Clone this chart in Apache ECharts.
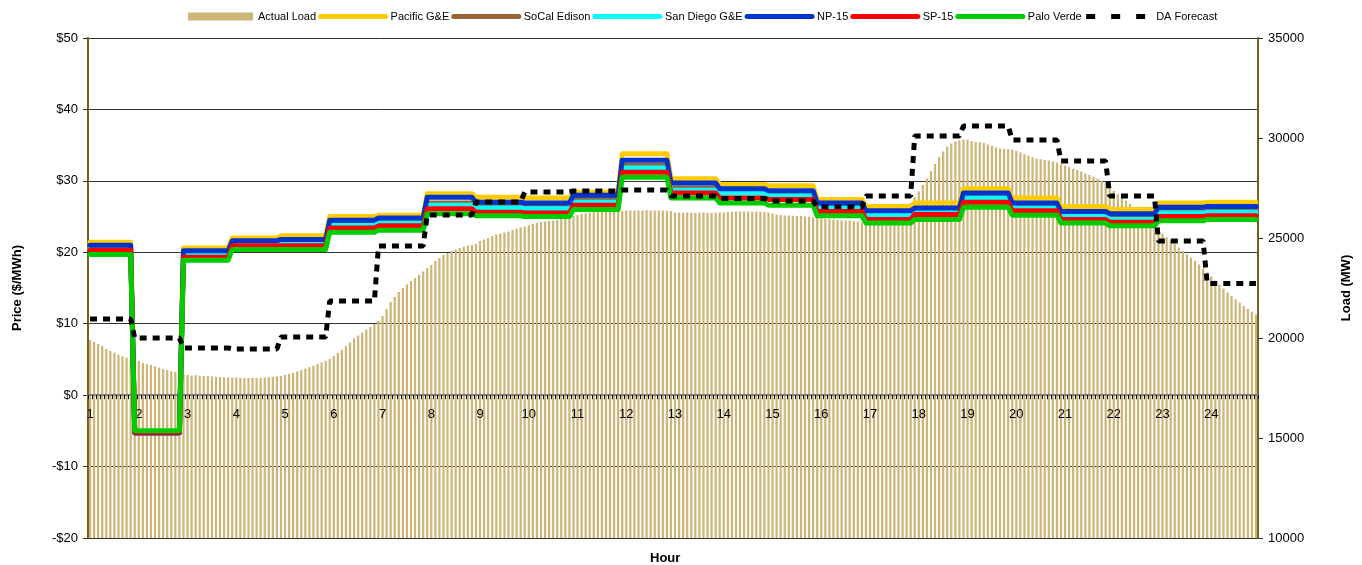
<!DOCTYPE html>
<html><head><meta charset="utf-8">
<script src="https://cdn.jsdelivr.net/npm/echarts@6/dist/echarts.min.js"></script>
<style>html,body{margin:0;padding:0;background:#fff}#c{width:1362px;height:565px}</style>
</head><body><div id="c"></div>
<script>
const hourLabels = ['1','2','3','4','5','6','7','8','9','10','11','12','13','14','15','16','17','18','19','20','21','22','23','24'];
// 5-minute actual load (MW), 12 per hour
const actualLoad = [
19900,19800,19700,19600,19450,19350,19270,19170,19080,19020,18950,18880,
18850,18750,18700,18650,18580,18520,18450,18400,18350,18300,18270,18220,
18150,18120,18140,18120,18100,18100,18080,18060,18050,18040,18030,18020,
18020,18010,18000,18000,18000,18000,18010,18020,18040,18060,18080,18100,
18150,18200,18260,18330,18400,18470,18540,18620,18700,18780,18860,18950,
19100,19250,19420,19600,19780,19980,20120,20280,20420,20550,20700,20850,
21100,21450,21800,22050,22300,22500,22680,22850,23000,23150,23320,23500,
23650,23850,24000,24150,24250,24350,24420,24500,24560,24620,24650,24700,
24850,24920,25000,25100,25170,25230,25280,25330,25400,25460,25520,25580,
25640,25700,25750,25790,25820,25850,25880,25910,25950,26000,26050,26100,
26150,26200,26240,26270,26290,26310,26320,26330,26340,26350,26350,26360,
26370,26380,26380,26370,26380,26390,26380,26370,26380,26370,26360,26350,
26280,26270,26260,26270,26260,26250,26260,26270,26260,26250,26260,26270,
26280,26300,26310,26320,26320,26330,26320,26310,26320,26310,26300,26280,
26220,26180,26150,26130,26120,26110,26100,26100,26080,26060,26040,26000,
25970,25950,25940,25920,25900,25890,25880,25870,25850,25820,25780,25740,
25700,25680,25670,25680,25700,25750,25850,26000,26200,26450,26750,27050,
27330,27650,27980,28350,28700,29050,29320,29560,29720,29820,29890,29930,
29920,29840,29800,29790,29750,29680,29600,29520,29470,29450,29440,29430,
29350,29270,29190,29120,29040,28980,28940,28900,28870,28820,28770,28710,
28620,28540,28460,28400,28330,28230,28150,28060,27960,27860,27720,27560,
27350,27190,27030,26870,26700,26550,26400,26250,26070,25870,25670,25450,
25230,25040,24900,24700,24520,24350,24190,24030,23860,23670,23470,23270,
23070,22870,22670,22470,22280,22100,21940,21770,21600,21450,21320,21170
];
// hourly prices ($/MWh)
const pacificGE   = [21.4,-5.3,20.6,22.0,22.3,25.0,25.2,28.2,27.7,27.6,28.4,33.8,30.3,29.5,29.3,27.4,26.4,26.9,28.9,27.6,26.4,26.0,26.9,27.0];
const socalEdison = [20.7,-5.25,19.8,21.3,21.4,24.1,24.4,26.9,26.5,26.4,27.5,32.2,29.0,28.5,28.2,26.5,25.4,25.8,27.9,26.5,25.3,24.9,25.8,25.9];
const sanDiegoGE  = [20.5,-5.2,19.6,21.1,21.2,23.8,24.1,26.6,26.2,26.1,27.0,31.8,28.7,28.3,27.9,26.2,25.2,25.6,27.6,26.2,25.1,24.6,25.5,25.6];
const np15        = [21.0,-5.3,20.2,21.6,21.8,24.5,24.8,27.7,27.0,26.9,28.0,32.9,29.7,28.9,28.6,26.9,25.8,26.2,28.3,26.9,25.7,25.4,26.3,26.4];
const sp15        = [20.3,-5.2,19.3,20.9,20.9,23.4,23.7,26.1,25.6,25.5,26.6,31.2,28.3,27.6,27.4,25.7,24.6,25.3,27.0,25.8,24.6,24.2,25.0,25.1];
const paloVerde   = [19.7,-5.0,18.9,20.4,20.4,22.8,23.1,25.4,25.1,25.0,26.0,30.5,27.6,26.9,26.6,25.1,24.1,24.6,26.3,25.2,24.1,23.7,24.4,24.6];
// hourly day-ahead load forecast (MW)
const daForecast  = [20950,20000,19500,19450,20050,21850,24600,26150,26800,27300,27350,27400,27100,26980,26850,26550,27100,30100,30600,29900,28850,27100,24850,22730];

const PER_HOUR = 12;
const categories = actualLoad.map((v, i) => (i % PER_HOUR === 0 ? hourLabels[i / PER_HOUR] : ''));
function hourIndex(i) { return Math.min(hourLabels.length - 1, Math.floor((i + 1) / PER_HOUR)); }
function toIntervals(hourly) { return actualLoad.map((v, i) => hourly[hourIndex(i)]); }

const FONT = "'Liberation Sans', Arial, sans-serif";
const LOAD_COLOR = '#CDB577';
function priceLine(name, data, color) {
  return { name, type: 'line', yAxisIndex: 0, data: toIntervals(data), symbol: 'none', z: 3,
    lineStyle: { color, width: 5, join: 'round', cap: 'round' }, itemStyle: { color } };
}
const hiddenSymbol = { color: 'rgba(0,0,0,0)', borderWidth: 0, opacity: 0 };

const chart = echarts.init(document.getElementById('c'));
chart.setOption({
  animation: false,
  textStyle: { fontFamily: FONT },
  legend: {
    left: 183, top: 6, itemWidth: 65, itemHeight: 8, itemGap: 2,
    textStyle: { fontFamily: FONT, fontSize: 11, color: '#000' },
    lineStyle: { width: 5, cap: 'round' },
    data: [
      { name: 'Actual Load', icon: 'rect', itemStyle: { color: LOAD_COLOR, opacity: 1 } },
      { name: 'Pacific G&E', itemStyle: hiddenSymbol },
      { name: 'SoCal Edison', itemStyle: hiddenSymbol },
      { name: 'San Diego G&E', itemStyle: hiddenSymbol },
      { name: 'NP-15', itemStyle: hiddenSymbol },
      { name: 'SP-15', itemStyle: hiddenSymbol },
      { name: 'Palo Verde', itemStyle: hiddenSymbol },
      { name: 'DA Forecast', itemStyle: hiddenSymbol, lineStyle: { width: 5, type: [9, 16], cap: 'butt' } }
    ]
  },
  grid: { left: 88, right: 104, top: 38, bottom: 27 },
  xAxis: {
    type: 'category', data: categories, boundaryGap: true, z: 2,
    axisLine: { onZero: true, onZeroAxisIndex: 0, lineStyle: { color: '#808080', width: 2 } },
    axisTick: { show: true, interval: 0, length: 4, lineStyle: { color: '#000', width: 1 } },
    axisLabel: { interval: (i) => i % PER_HOUR === 0, margin: -130, fontSize: 13, color: '#000', fontFamily: FONT },
    splitLine: { show: false }
  },
  yAxis: [
    { type: 'value', min: -20, max: 50, interval: 10, position: 'left',
      name: 'Price ($/MWh)', nameLocation: 'middle', nameGap: 64, nameRotate: 90,
      nameTextStyle: { fontWeight: 'bold', fontSize: 13, color: '#000', fontFamily: FONT },
      axisLine: { show: true, lineStyle: { color: '#7B5C1E', width: 2 } },
      axisTick: { show: true, length: 5, lineStyle: { color: '#333' } },
      axisLabel: { fontSize: 13, color: '#000', margin: 10, fontFamily: FONT,
        formatter: (v) => (v < 0 ? '-$' + Math.abs(v) : '$' + v) },
      splitLine: { show: true, lineStyle: { color: '#333', width: 1 } } },
    { type: 'value', min: 10000, max: 35000, interval: 5000, position: 'right',
      name: 'Load (MW)', nameLocation: 'middle', nameGap: 82, nameRotate: 90,
      nameTextStyle: { fontWeight: 'bold', fontSize: 13, color: '#000', fontFamily: FONT },
      axisLine: { show: true, lineStyle: { color: '#7B5C1E', width: 2 } },
      axisTick: { show: true, length: 5, lineStyle: { color: '#333' } },
      axisLabel: { fontSize: 13, color: '#000', margin: 10, fontFamily: FONT, formatter: (v) => String(v) },
      splitLine: { show: false } }
  ],
  graphic: [{ type: 'text', left: 650, top: 552, style: { text: 'Hour', font: "bold 13px 'Liberation Sans', Arial, sans-serif", fill: '#000' } }],
  series: [
    { name: 'Actual Load', type: 'bar', yAxisIndex: 1, data: actualLoad, barCategoryGap: '45%', z: 1,
      itemStyle: { color: LOAD_COLOR } },
    priceLine('Pacific G&E', pacificGE, '#FFCC00'),
    priceLine('SoCal Edison', socalEdison, '#996633'),
    priceLine('San Diego G&E', sanDiegoGE, '#00FFFF'),
    priceLine('NP-15', np15, '#0033CC'),
    priceLine('SP-15', sp15, '#FF0000'),
    priceLine('Palo Verde', paloVerde, '#00CC00'),
    { name: 'DA Forecast', type: 'line', yAxisIndex: 1, data: toIntervals(daForecast), symbol: 'none', z: 4,
      lineStyle: { color: '#000', width: 5, type: [7, 6] }, itemStyle: { color: '#000' } }
  ]
});
</script></body></html>
